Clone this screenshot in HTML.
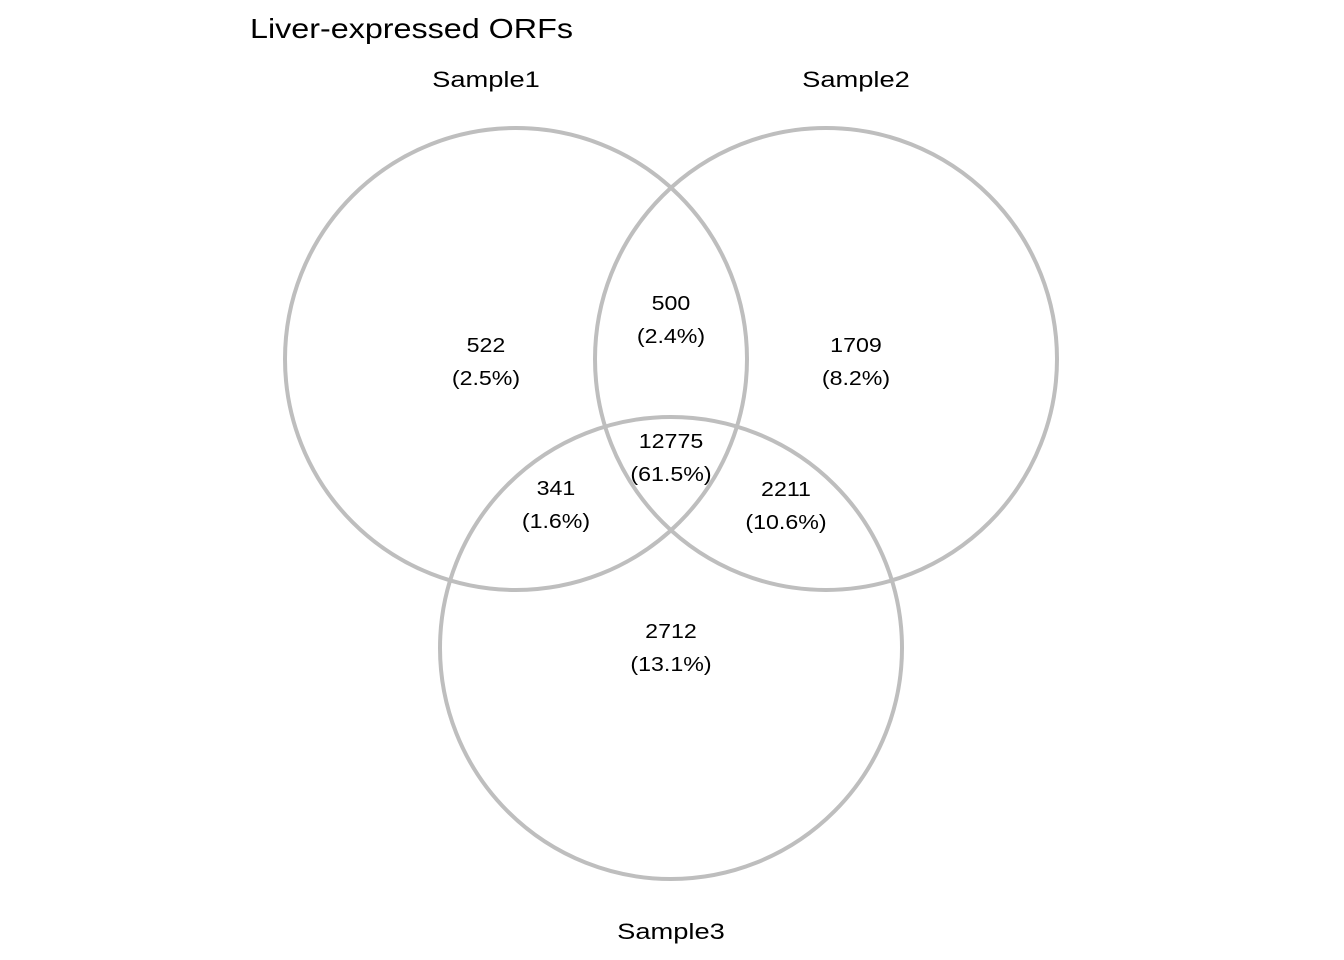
<!DOCTYPE html>
<html><head><meta charset="utf-8"><style>
html,body{margin:0;padding:0;background:#fff;}
svg{display:block;font-family:"Liberation Sans",sans-serif;}
</style></head><body>
<svg id="chart" width="1344" height="960" viewBox="0 0 1344 960">
<text id="title" x="250" y="38" font-size="28" fill="#000" textLength="323" lengthAdjust="spacingAndGlyphs">Liver-expressed ORFs</text>
<g id="circles"></g>
<g id="labels"></g>
</svg>
<script>
const setNames = ["Sample1","Sample2","Sample3"];
const regionNames = ["only-1","only-2","only-3","1-2","1-3","2-3","1-2-3"];
const regionCounts = [522,1709,2712,500,341,2211,12775];

const ns="http://www.w3.org/2000/svg";
const circ=[{cx:516,cy:359,lx:486,ly:87},{cx:826,cy:359,lx:856,ly:87},{cx:671,cy:648,lx:671,ly:939}];
const r=231;
const regionPos=[[486,345],[856,345],[671,631],[671,303],[556,488],[786,489],[671,441]];
const total=regionCounts.reduce((a,b)=>a+b,0);
const cg=document.getElementById('circles'), lg=document.getElementById('labels');
function stretch(t,f){const w=t.getComputedTextLength();t.setAttribute('textLength',(w*f).toFixed(1));t.setAttribute('lengthAdjust','spacingAndGlyphs');}
circ.forEach((c,i)=>{
  const e=document.createElementNS(ns,'circle');
  e.setAttribute('cx',c.cx);e.setAttribute('cy',c.cy);e.setAttribute('r',r);
  e.setAttribute('fill','none');e.setAttribute('stroke','#bebebe');e.setAttribute('stroke-width','4');
  
  
  cg.appendChild(e);
  const t=document.createElementNS(ns,'text');
  t.setAttribute('x',c.lx);t.setAttribute('y',c.ly);t.setAttribute('text-anchor','middle');
  t.setAttribute('font-size','22');t.textContent=setNames[i];
  
  
  lg.appendChild(t);
  stretch(t,1.24);
});
regionCounts.forEach((v,i)=>{
  const [x,y]=regionPos[i];
  const t=document.createElementNS(ns,'text');
  t.setAttribute('x',x);t.setAttribute('y',y+7);t.setAttribute('text-anchor','middle');t.setAttribute('font-size','20');
  t.textContent=v;
  
  
  lg.appendChild(t);
  stretch(t,1.16);
  const p=document.createElementNS(ns,'text');
  p.setAttribute('x',x);p.setAttribute('y',y+40);p.setAttribute('text-anchor','middle');p.setAttribute('font-size','20');
  p.textContent='('+(v/total*100).toFixed(1)+'%)';
  
  
  lg.appendChild(p);
  stretch(p,1.16);
});
</script>
</body></html>
